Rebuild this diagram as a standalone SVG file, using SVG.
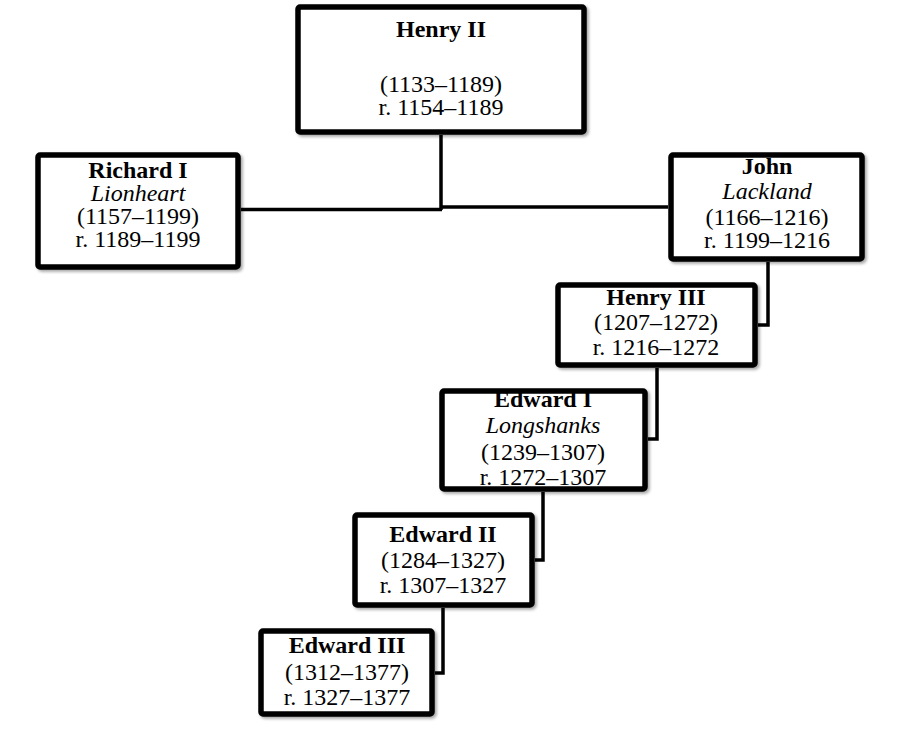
<svg xmlns="http://www.w3.org/2000/svg" width="900" height="735" viewBox="0 0 900 735">
<defs>
<filter id="sh" x="-10%" y="-10%" width="120%" height="120%">
<feDropShadow dx="2" dy="2" stdDeviation="1.5" flood-color="#000" flood-opacity="0.35"/>
</filter>
</defs>
<style>
.box{fill:#fff;stroke:#000;stroke-width:5.5;filter:url(#sh)}
text{font-family:"Liberation Serif","Times New Roman",serif;font-size:24px;fill:#000;text-anchor:middle}
.b{font-weight:bold}
.i{font-style:italic}
.c{fill:none;stroke:#000;stroke-width:3.5}
</style>
<rect width="900" height="735" fill="#fff"/>
<g id="connectors">
<path class="c" d="M441,135 V210"/>
<path class="c" d="M241,209.5 H442"/>
<path class="c" d="M441,207 H668"/>
<path class="c" d="M768,262 V325 H758"/>
<path class="c" d="M657,368 V439 H648"/>
<path class="c" d="M543,492 V560 H535"/>
<path class="c" d="M443,608 V673 H435"/>
</g>
<g id="henry2">
<rect class="box" x="298" y="7" width="286" height="125" rx="2"/>
<text class="b" x="441" y="37">Henry II</text>
<text x="441" y="92">(1133–1189)</text>
<text x="441" y="115">r. 1154–1189</text>
</g>
<g id="richard1">
<rect class="box" x="38" y="155" width="200" height="112" rx="2"/>
<text class="b" x="138" y="178">Richard I</text>
<text class="i" x="138" y="201">Lionheart</text>
<text x="138" y="224">(1157–1199)</text>
<text x="138" y="247">r. 1189–1199</text>
</g>
<g id="john">
<rect class="box" x="671" y="155" width="191" height="104" rx="2"/>
<text class="b" x="767" y="174">John</text>
<text class="i" x="767" y="199">Lackland</text>
<text x="767" y="225">(1166–1216)</text>
<text x="767" y="248">r. 1199–1216</text>
</g>
<g id="henry3">
<rect class="box" x="558" y="285" width="197" height="80" rx="2"/>
<text class="b" x="656" y="305">Henry III</text>
<text x="656" y="330">(1207–1272)</text>
<text x="656" y="355">r. 1216–1272</text>
</g>
<g id="edward1">
<rect class="box" x="442" y="391" width="203" height="98" rx="2"/>
<text class="b" x="543" y="407">Edward I</text>
<text class="i" x="543" y="433">Longshanks</text>
<text x="543" y="460">(1239–1307)</text>
<text x="543" y="485">r. 1272–1307</text>
</g>
<g id="edward2">
<rect class="box" x="355" y="515" width="177" height="90" rx="2"/>
<text class="b" x="443" y="542">Edward II</text>
<text x="443" y="568">(1284–1327)</text>
<text x="443" y="593">r. 1307–1327</text>
</g>
<g id="edward3">
<rect class="box" x="261" y="631" width="171" height="83" rx="2"/>
<text class="b" x="347" y="653">Edward III</text>
<text x="347" y="680">(1312–1377)</text>
<text x="347" y="705">r. 1327–1377</text>
</g>
</svg>
